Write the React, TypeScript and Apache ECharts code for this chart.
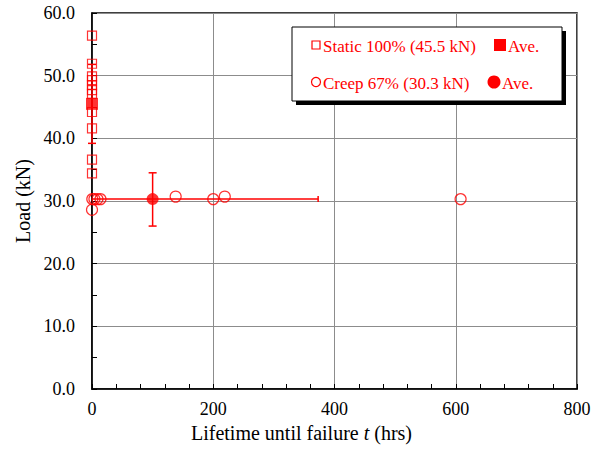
import React, { useEffect, useRef } from "react";
import * as echarts from "echarts";

// Static tests at 100% load: lifetime (hrs), load (kN)
const staticLifetime = [0, 0, 0, 0, 0, 0, 0, 0, 0, 0, 0];
const staticLoad = [56.4, 51.9, 49.9, 49.3, 48.5, 47.7, 47.1, 44.2, 41.6, 36.6, 34.4];

// Creep tests at 67% load
const creepLifetime = [0.5, 4, 9, 14, 0, 138, 200, 219, 608];
const creepLoad = [30.3, 30.3, 30.3, 30.3, 28.6, 30.7, 30.3, 30.7, 30.3];

// Averages with spread: [t, load, tLow, tHigh, loadLow, loadHigh]
const staticAve = [0, 45.5, 0, 0, 39.2, 51.8];
const creepAve = [100, 30.3, -173, 373, 26.0, 34.5];

const xTicks = [0, 200, 400, 600, 800];
const yTicks = [0, 10, 20, 30, 40, 50, 60];

const legendRow1 = ["Static 100% (45.5 kN)", "Ave."];
const legendRow2 = ["Creep 67% (30.3 kN)", "Ave."];

const RED = "#ff0000";
const SERIF = "Liberation Serif";

export default function App() {
  const ref = useRef<HTMLDivElement>(null);

  useEffect(() => {
    if (!ref.current) return;
    const chart = echarts.init(ref.current, null, { renderer: "svg" });

    const xMin = xTicks[0];
    const xMax = xTicks[xTicks.length - 1];

    const errorBars = (params: any, api: any) => {
      const x = api.value(0);
      const y = api.value(1);
      const xl = api.value(2);
      const xh = api.value(3);
      const yl = api.value(4);
      const yh = api.value(5);
      const lineStyle = { stroke: RED, lineWidth: 1.5 };
      const children: any[] = [];
      // vertical bar
      if (yh > yl) {
        const top = api.coord([x, yh]);
        const bot = api.coord([x, yl]);
        children.push({ type: "line", shape: { x1: top[0], y1: top[1], x2: bot[0], y2: bot[1] }, style: lineStyle });
        children.push({ type: "line", shape: { x1: top[0] - 4, y1: top[1], x2: top[0] + 4, y2: top[1] }, style: lineStyle });
        children.push({ type: "line", shape: { x1: bot[0] - 4, y1: bot[1], x2: bot[0] + 4, y2: bot[1] }, style: lineStyle });
      }
      // horizontal bar, limited to the visible range
      if (xh > xl) {
        const l = api.coord([Math.max(xl, xMin), y]);
        const r = api.coord([Math.min(xh, xMax), y]);
        children.push({ type: "line", shape: { x1: l[0], y1: l[1], x2: r[0], y2: r[1] }, style: lineStyle });
        if (xl >= xMin) {
          children.push({ type: "line", shape: { x1: l[0], y1: l[1] - 3, x2: l[0], y2: l[1] + 3 }, style: lineStyle });
        }
        if (xh <= xMax) {
          children.push({ type: "line", shape: { x1: r[0], y1: r[1] - 3, x2: r[0], y2: r[1] + 3 }, style: lineStyle });
        }
      }
      return { type: "group", children };
    };

    const lx = 292;
    const ly = 27;
    const lw = 270;
    const lh = 74;
    const legendText = (text: string, x: number, y: number) => ({
      type: "text",
      x,
      y,
      style: { text, fill: RED, fontFamily: SERIF, fontSize: 17, verticalAlign: "middle" },
      z: 102,
    });

    const axisFont = { color: "#000", fontFamily: SERIF, fontSize: 18 };
    const nameFont = { color: "#000", fontFamily: SERIF, fontSize: 20 };

    chart.setOption({
      animation: false,
      backgroundColor: "#fff",
      textStyle: { fontFamily: SERIF },
      grid: {
        left: 92,
        right: 32,
        top: 13,
        bottom: 61,
        show: true,
        borderColor: "#000",
        borderWidth: 1.5,
      },
      xAxis: {
        type: "value",
        min: xMin,
        max: xMax,
        interval: 200,
        name: "{n|Lifetime until failure }{i|t}{n| (hrs)}",
        nameLocation: "middle",
        nameGap: 32,
        nameTextStyle: {
          ...nameFont,
          padding: [0, 66, 0, 0],
          rich: {
            n: { ...nameFont },
            i: { ...nameFont, fontStyle: "italic" },
          },
        },
        axisLine: { show: true, lineStyle: { color: "#000", width: 1.5 } },
        axisTick: { show: true, inside: true, length: 5, lineStyle: { color: "#000" } },
        minorTick: { show: true, splitNumber: 5, length: 5, lineStyle: { color: "#000" } },
        axisLabel: { ...axisFont, margin: 11 },
        splitLine: { show: true, lineStyle: { color: "#8c8c8c", width: 1 } },
      },
      yAxis: {
        type: "value",
        min: yTicks[0],
        max: yTicks[yTicks.length - 1],
        interval: 10,
        name: "Load (kN)",
        nameLocation: "middle",
        nameGap: 51,
        nameTextStyle: { ...nameFont },
        axisLine: { show: true, lineStyle: { color: "#000", width: 1.5 } },
        axisTick: { show: true, inside: true, length: 5, lineStyle: { color: "#000" } },
        minorTick: { show: true, splitNumber: 2, length: 5, lineStyle: { color: "#000" } },
        axisLabel: {
          ...axisFont,
          margin: 17,
          formatter: (v: number) => v.toFixed(1),
        },
        splitLine: { show: true, lineStyle: { color: "#8c8c8c", width: 1 } },
      },
      series: [
        {
          type: "custom",
          name: "error",
          renderItem: errorBars,
          data: [staticAve, creepAve],
          z: 3,
          clip: false,
        },
        {
          type: "scatter",
          name: legendRow1[0],
          data: staticLifetime.map((t, i) => [t, staticLoad[i]]),
          symbol: "rect",
          symbolSize: 9,
          itemStyle: { color: "rgba(255,255,255,0)", borderColor: RED, borderWidth: 1.2 },
          clip: false,
          z: 4,
        },
        {
          type: "scatter",
          name: legendRow2[0],
          data: creepLifetime.map((t, i) => [t, creepLoad[i]]),
          symbol: "circle",
          symbolSize: 11,
          itemStyle: { color: "rgba(255,255,255,0)", borderColor: RED, borderWidth: 1.2 },
          clip: false,
          z: 4,
        },
        {
          type: "scatter",
          name: "Static Ave.",
          data: [[staticAve[0], staticAve[1]]],
          symbol: "rect",
          symbolSize: 12,
          itemStyle: { color: RED },
          clip: false,
          z: 5,
        },
        {
          type: "scatter",
          name: "Creep Ave.",
          data: [[creepAve[0], creepAve[1]]],
          symbol: "circle",
          symbolSize: 12,
          itemStyle: { color: RED },
          clip: false,
          z: 5,
        },
      ],
      graphic: [
        {
          type: "rect",
          shape: { x: lx + 4, y: ly + 4, width: lw, height: lh },
          style: { fill: "#000" },
          z: 100,
        },
        {
          type: "rect",
          shape: { x: lx, y: ly, width: lw, height: lh },
          style: { fill: "#fff", stroke: "#000", lineWidth: 1 },
          z: 101,
        },
        {
          type: "rect",
          shape: { x: 312, y: 41, width: 8, height: 8 },
          style: { fill: "#fff", stroke: RED, lineWidth: 1.2 },
          z: 102,
        },
        legendText(legendRow1[0], 323, 46),
        {
          type: "rect",
          shape: { x: 494, y: 39, width: 12, height: 12 },
          style: { fill: RED },
          z: 102,
        },
        legendText(legendRow1[1], 508, 46),
        {
          type: "circle",
          shape: { cx: 316, cy: 82, r: 4.5 },
          style: { fill: "#fff", stroke: RED, lineWidth: 1.2 },
          z: 102,
        },
        legendText(legendRow2[0], 323, 83),
        {
          type: "circle",
          shape: { cx: 494, cy: 82, r: 6.5 },
          style: { fill: RED },
          z: 102,
        },
        legendText(legendRow2[1], 502, 83),
      ],
    });

    return () => chart.dispose();
  }, []);

  return (
    <div
      ref={ref}
      style={{ position: "fixed", left: 0, top: 0, width: 609, height: 450, background: "#fff" }}
    />
  );
}
